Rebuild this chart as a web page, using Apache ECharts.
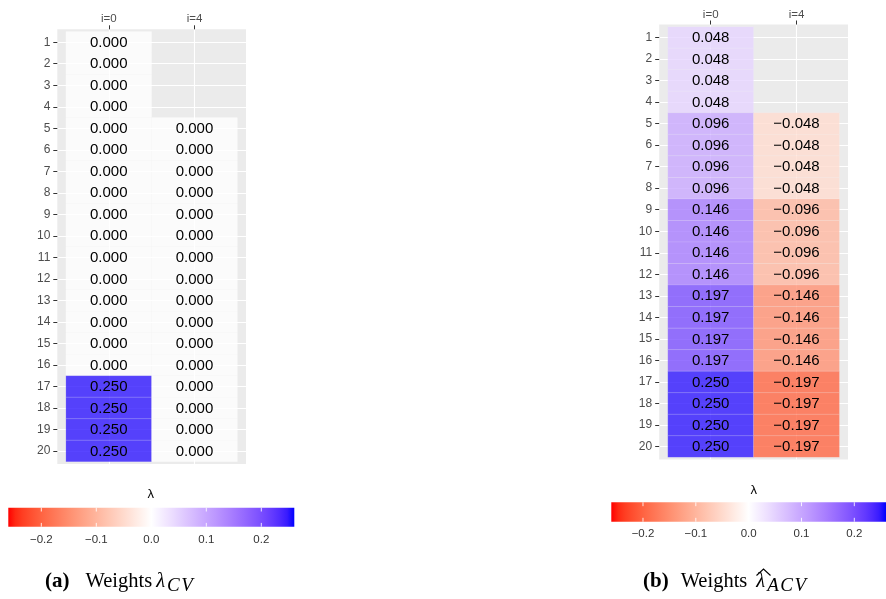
<!DOCTYPE html>
<html>
<head>
<meta charset="utf-8">
<script src="https://cdn.jsdelivr.net/npm/echarts@6/dist/echarts.min.js"></script>
<style>
  html, body { margin: 0; padding: 0; background: #ffffff; }
  #chart { width: 886px; height: 599px; }
</style>
</head>
<body>
<div id="chart"></div>
<script>
// ---- data -------------------------------------------------------------
const rowLabels = ['1','2','3','4','5','6','7','8','9','10',
                   '11','12','13','14','15','16','17','18','19','20'];
const columnLabels = ['i=0', 'i=4'];

// weights lambda_CV (null = no weight for that row)
const cvFirst  = [0,0,0,0, 0,0,0,0, 0,0,0,0, 0,0,0,0, 0.25,0.25,0.25,0.25];
const cvSecond = [null,null,null,null, 0,0,0,0, 0,0,0,0, 0,0,0,0, 0,0,0,0];

// weights lambda_ACV
const acvFirst  = [0.048,0.048,0.048,0.048, 0.096,0.096,0.096,0.096,
                   0.146,0.146,0.146,0.146, 0.197,0.197,0.197,0.197,
                   0.250,0.250,0.250,0.250];
const acvSecond = [null,null,null,null, -0.048,-0.048,-0.048,-0.048,
                   -0.096,-0.096,-0.096,-0.096, -0.146,-0.146,-0.146,-0.146,
                   -0.197,-0.197,-0.197,-0.197];

const legendBreaks = [-0.2, -0.1, 0, 0.1, 0.2];
const fillLimit = 0.26;

// ---- diverging red / white / blue scale, interpolated in CIE Lab --------
function toLinear(c) { c /= 255; return c <= 0.04045 ? c / 12.92 : Math.pow((c + 0.055) / 1.055, 2.4); }
function fromLinear(c) {
  c = c <= 0.0031308 ? 12.92 * c : 1.055 * Math.pow(c, 1 / 2.4) - 0.055;
  return Math.round(Math.min(1, Math.max(0, c)) * 255);
}
const WX = 0.95047, WY = 1.0, WZ = 1.08883;
function rgbToLab(rgb) {
  const r = toLinear(rgb[0]), g = toLinear(rgb[1]), b = toLinear(rgb[2]);
  const X = (0.4124564 * r + 0.3575761 * g + 0.1804375 * b) / WX;
  const Y = (0.2126729 * r + 0.7151522 * g + 0.0721750 * b) / WY;
  const Z = (0.0193339 * r + 0.1191920 * g + 0.9503041 * b) / WZ;
  const f = t => t > 0.008856 ? Math.cbrt(t) : 7.787 * t + 16 / 116;
  const fx = f(X), fy = f(Y), fz = f(Z);
  return [116 * fy - 16, 500 * (fx - fy), 200 * (fy - fz)];
}
function labToRgb(lab) {
  const fy = (lab[0] + 16) / 116, fx = fy + lab[1] / 500, fz = fy - lab[2] / 200;
  const inv = t => { const t3 = t * t * t; return t3 > 0.008856 ? t3 : (t - 16 / 116) / 7.787; };
  const X = WX * inv(fx), Y = WY * inv(fy), Z = WZ * inv(fz);
  return [
    fromLinear( 3.2404542 * X - 1.5371385 * Y - 0.4985314 * Z),
    fromLinear(-0.9692660 * X + 1.8760108 * Y + 0.0415560 * Z),
    fromLinear( 0.0556434 * X - 0.2040259 * Y + 1.0572252 * Z)
  ];
}
const labLow = rgbToLab([255, 0, 0]);
const labMid = rgbToLab([255, 255, 255]);
const labHigh = rgbToLab([0, 0, 255]);
function fillRgb(v) {
  const t = Math.max(-1, Math.min(1, v / fillLimit));
  const end = t < 0 ? labLow : labHigh;
  const k = Math.abs(t);
  return labToRgb([0, 1, 2].map(i => labMid[i] + k * (end[i] - labMid[i])));
}
const tileAlpha = 0.8;
function tileColour(v) {
  const c = fillRgb(v);
  return 'rgba(' + c[0] + ',' + c[1] + ',' + c[2] + ',' + tileAlpha + ')';
}
function formatWeight(v) { return v.toFixed(3).replace('-', '\u2212'); }
function formatBreak(v) { return (Math.abs(v) < 1e-9 ? 0 : v).toFixed(1).replace('-', '\u2212'); }

// ---- table rows: [column position, row position, value] -------------------
function buildCells(first, second) {
  const out = [];
  [first, second].forEach((col, ci) => {
    col.forEach((v, ri) => { if (v !== null) out.push([ci + 1, ri + 1, v]); });
  });
  return out;
}
const cvCells = buildCells(cvFirst, cvSecond);
const acvCells = buildCells(acvFirst, acvSecond);

const rowPositions = rowLabels.map((_, i) => i + 1);
const columnPositions = columnLabels.map((_, i) => i + 1);

function renderTile(params, api) {
  const x = api.value(0), y = api.value(1), v = api.value(2);
  const a = api.coord([x - 0.5, y - 0.5]);
  const b = api.coord([x + 0.5, y + 0.5]);
  const c = api.coord([x, y]);
  return {
    type: 'group',
    children: [
      {
        type: 'rect',
        shape: { x: Math.min(a[0], b[0]), y: Math.min(a[1], b[1]),
                 width: Math.abs(b[0] - a[0]), height: Math.abs(b[1] - a[1]) },
        style: { fill: tileColour(v), stroke: 'rgba(255,255,255,0.14)', lineWidth: 0.8 }
      },
      {
        type: 'text',
        style: { text: formatWeight(v), x: c[0], y: c[1] + 0.5, align: 'center', verticalAlign: 'middle',
                 fontSize: 15, fontFamily: '"Liberation Sans", Arial, sans-serif', fill: '#000000' }
      }
    ]
  };
}

function renderColourBar(params, api) {
  const a = api.coord([-fillLimit, 1]);
  const b = api.coord([fillLimit, 0]);
  const stops = [];
  const n = 40;
  for (let i = 0; i <= n; i++) {
    const v = -fillLimit + 2 * fillLimit * i / n;
    const c = fillRgb(v);
    stops.push({ offset: i / n, color: 'rgb(' + c[0] + ',' + c[1] + ',' + c[2] + ')' });
  }
  const h = b[1] - a[1];
  const children = [{
    type: 'rect',
    shape: { x: a[0], y: a[1], width: b[0] - a[0], height: h },
    style: { fill: { type: 'linear', x: 0, y: 0, x2: 1, y2: 0, colorStops: stops } }
  }];
  legendBreaks.forEach(v => {
    const p = api.coord([v, 0]);
    children.push({ type: 'line', shape: { x1: p[0], y1: a[1], x2: p[0], y2: a[1] + h * 0.2 },
                    style: { stroke: 'rgba(255,255,255,0.85)', lineWidth: 1 } });
    children.push({ type: 'line', shape: { x1: p[0], y1: b[1], x2: p[0], y2: b[1] - h * 0.2 },
                    style: { stroke: 'rgba(255,255,255,0.85)', lineWidth: 1 } });
  });
  return { type: 'group', children: children };
}

// ---- axes -------------------------------------------------------------
const axisFont = '"Liberation Sans", Arial, sans-serif';
function tableX(gridIndex) {
  return {
    gridIndex: gridIndex, type: 'value', position: 'top', min: 0.4, max: 2.6,
    axisLine: { show: false },
    axisTick: { show: true, length: 4, customValues: columnPositions, lineStyle: { color: '#333333', width: 1 } },
    axisLabel: { customValues: columnPositions, formatter: v => columnLabels[Math.round(v) - 1],
                 color: '#4D4D4D', fontSize: 11.5, fontFamily: axisFont, margin: 4 },
    splitLine: { show: true, lineStyle: { color: '#ffffff', width: 1.1 } }
  };
}
function tableY(gridIndex) {
  return {
    gridIndex: gridIndex, type: 'value', inverse: true, min: 0.4, max: 20.6,
    axisLine: { show: false },
    axisTick: { show: true, length: 4, customValues: rowPositions, lineStyle: { color: '#333333', width: 1 } },
    axisLabel: { customValues: rowPositions, formatter: v => rowLabels[Math.round(v) - 1],
                 color: '#4D4D4D', fontSize: 12, fontFamily: axisFont, margin: 7 },
    splitLine: { show: true, lineStyle: { color: '#ffffff', width: 1.1 } }
  };
}
function barX(gridIndex, margin) {
  return {
    gridIndex: gridIndex, type: 'value', position: 'bottom', min: -fillLimit, max: fillLimit,
    axisLine: { show: false }, axisTick: { show: false }, splitLine: { show: false },
    axisLabel: { customValues: legendBreaks, formatter: formatBreak,
                 color: '#333333', fontSize: 11.5, fontFamily: axisFont, margin: margin }
  };
}
function barY(gridIndex) {
  return { gridIndex: gridIndex, type: 'value', min: 0, max: 1, show: false };
}

// ---- sub-figure captions ---------------------------------------------------
const serif = '"Liberation Serif", "Times New Roman", serif';
function captionRich(afterTag, afterWord) {
  return {
    b: { fontFamily: serif, fontWeight: 'bold', fontSize: 21, lineHeight: 26, color: '#000', padding: [0, afterTag, 0, 0] },
    r: { fontFamily: serif, fontWeight: 'normal', fontSize: 20.5, lineHeight: 26, color: '#000', padding: [0, afterWord, 0, 0] },
    m: { fontFamily: serif, fontWeight: 'normal', fontStyle: 'italic', fontSize: 20.5, lineHeight: 26, color: '#000', padding: [0, 2, 0, 0] },
    s: { fontFamily: serif, fontWeight: 'normal', fontStyle: 'italic', fontSize: 19, lineHeight: 16, color: '#000',
         verticalAlign: 'bottom', padding: [0, 1.5, 0, 0] }
  };
}

const chart = echarts.init(document.getElementById('chart'), null, { renderer: 'canvas' });
chart.setOption({
  animation: false,
  backgroundColor: '#ffffff',
  title: [
    { text: '{b|(a)}{r|Weights}{m|\u03bb}{s|C}{s|V}', left: 45, top: 569, padding: 0,
      textStyle: { rich: captionRich(16, 4), fontSize: 20, fontWeight: 'normal', fontFamily: serif } },
    { text: '{b|(b)}{r|Weights}{m|\u03bb}{s|A}{s|C}{s|V}', left: 643, top: 569, padding: 0,
      textStyle: { rich: captionRich(12, 9), fontSize: 20, fontWeight: 'normal', fontFamily: serif } }
  ],
  graphic: [
    { type: 'text', left: 147.5, top: 488, style: { text: '\u03bb', fontSize: 13, fontFamily: axisFont, fill: '#000' } },
    { type: 'text', left: 750.5, top: 484, style: { text: '\u03bb', fontSize: 13, fontFamily: axisFont, fill: '#000' } },
    // wide hat accent over the second caption's lambda
    { type: 'polyline', shape: { points: [[756.5, 575.5], [763.5, 569], [770.5, 575.5]] },
      style: { stroke: '#000', lineWidth: 1.1, fill: null } }
  ],
  grid: [
    { left: 57.3, top: 29.3, width: 188.7, height: 434.6, show: true, backgroundColor: '#EBEBEB', borderWidth: 0 },
    { left: 659.2, top: 24.5, width: 188.8, height: 435, show: true, backgroundColor: '#EBEBEB', borderWidth: 0 },
    { left: 8.3, top: 507.7, width: 286, height: 19 },
    { left: 611.3, top: 502.3, width: 286, height: 19.4 }
  ],
  xAxis: [tableX(0), tableX(1), barX(2, 7), barX(3, 6)],
  yAxis: [tableY(0), tableY(1), barY(2), barY(3)],
  series: [
    { type: 'custom', name: 'lambda CV', xAxisIndex: 0, yAxisIndex: 0, data: cvCells, renderItem: renderTile },
    { type: 'custom', name: 'lambda ACV', xAxisIndex: 1, yAxisIndex: 1, data: acvCells, renderItem: renderTile },
    { type: 'custom', name: 'scale CV', xAxisIndex: 2, yAxisIndex: 2, data: [[0, 0]], renderItem: renderColourBar, silent: true },
    { type: 'custom', name: 'scale ACV', xAxisIndex: 3, yAxisIndex: 3, data: [[0, 0]], renderItem: renderColourBar, silent: true }
  ]
});
</script>
</body>
</html>
